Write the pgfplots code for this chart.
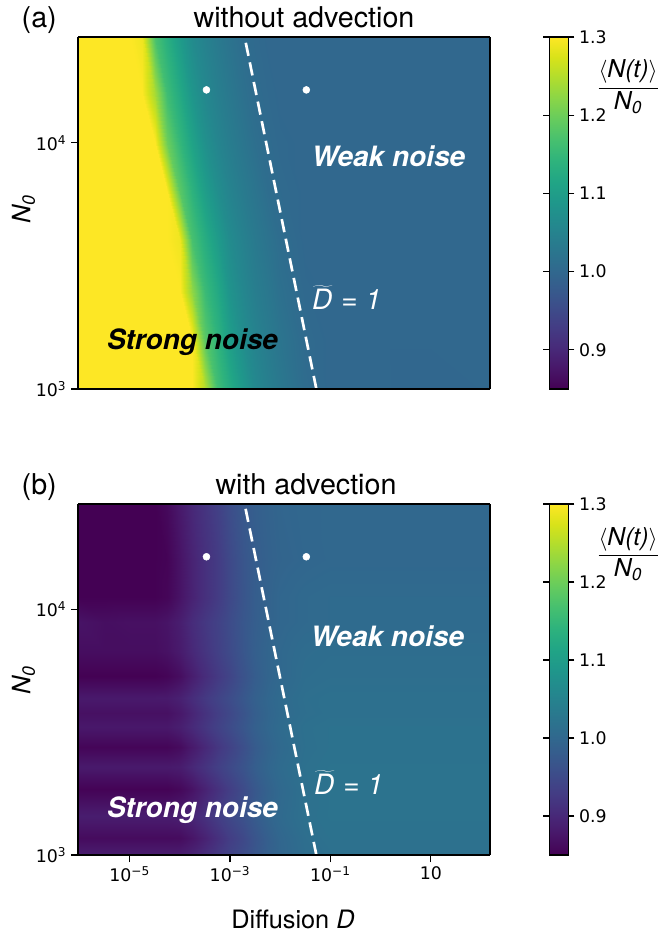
\documentclass[border=0pt]{standalone}
\usepackage{fontspec}
\setmainfont{TeX Gyre Heros}
\newfontfamily\dejavu{DejaVu Sans}
\usepackage{pgfplots}
\pgfplotsset{compat=1.18}

\newcommand{\tickfont}{\dejavu\fontsize{13}{15}\selectfont}
\newcommand{\bigfont}{\fontsize{19}{23}\selectfont}
\newcommand{\titlefont}{\fontsize{21.5}{25}\selectfont}
\newcommand{\annfont}{\fontsize{21}{25}\selectfont}

\pgfplotsset{
  panel/.style={
    view={0}{90},
    scale only axis,
    width=309pt,
    xmin=-6.03, xmax=2.18, ymin=3, ymax=4.43,
    axis on top,
    colormap name=viridis,
    point meta min=0.85, point meta max=1.3,
    tick align=outside,
    major tick length=5.25pt,
    every tick/.style={black, line width=0.9pt},
    axis line style={line width=0.9pt},
    xtick pos=left, ytick pos=left,
    ztick=\empty,
    ytick={3,4},
    yticklabels={10\textsuperscript{3},10\textsuperscript{4}},
    tick label style={font=\tickfont},
    colorbar,
    colorbar style={
      at={(parent axis.north east)}, anchor=north west, xshift=36pt,
      width=14.25pt,
      ytick={0.9,1.0,1.1,1.2,1.3},
      yticklabels={0.9,1.0,1.1,1.2,1.3},
      yticklabel style={font=\tickfont},
      tick align=outside,
      major tick length=4.5pt,
      every tick/.style={black, line width=0.9pt},
      axis line style={line width=0.9pt},
    },
  },
  dline/.style={white, line width=2pt, dash pattern=on 10pt off 5pt},
  dots/.style={only marks, mark=*, mark options={fill=white, draw=white}, mark size=2.6pt},
}

\begin{document}
\begin{tikzpicture}
\path[use as bounding box] (0,0) rectangle (497.25pt,700.5pt);

% ---------------- panel (a): without advection
\begin{axis}[panel, at={(58.5pt,408.75pt)}, anchor=south west, height=264pt, xtick=\empty]
\addplot3[surf, shader=interp, mesh/cols=20] coordinates {
(-6.03,3,1.33) (-5.5,3,1.33) (-5,3,1.33) (-4.75,3,1.33) (-4.5,3,1.33) (-4.25,3,1.33) (-4,3,1.33) (-3.75,3,1.33) (-3.5,3,1.25) (-3.25,3,1.16) (-3,3,1.125) (-2.75,3,1.09) (-2.5,3,1.06) (-2.25,3,1.043) (-2,3,1.03) (-1.5,3,1.008) (-1,3,1.0) (0,3,1.0) (1,3,0.998) (2.18,3,1.0)
(-6.03,3.2,1.33) (-5.5,3.2,1.33) (-5,3.2,1.33) (-4.75,3.2,1.33) (-4.5,3.2,1.33) (-4.25,3.2,1.33) (-4,3.2,1.33) (-3.75,3.2,1.31) (-3.5,3.2,1.185) (-3.25,3.2,1.14) (-3,3.2,1.10) (-2.75,3.2,1.07) (-2.5,3.2,1.05) (-2.25,3.2,1.035) (-2,3.2,1.023) (-1.5,3.2,1.005) (-1,3.2,1.0) (0,3.2,1.0) (1,3.2,1.0) (2.18,3.2,1.0)
(-6.03,3.4,1.33) (-5.5,3.4,1.33) (-5,3.4,1.33) (-4.75,3.4,1.33) (-4.5,3.4,1.33) (-4.25,3.4,1.33) (-4,3.4,1.33) (-3.75,3.4,1.225) (-3.5,3.4,1.155) (-3.25,3.4,1.12) (-3,3.4,1.08) (-2.75,3.4,1.057) (-2.5,3.4,1.04) (-2.25,3.4,1.028) (-2,3.4,1.015) (-1.5,3.4,1.002) (-1,3.4,1.0) (0,3.4,1.0) (1,3.4,1.0) (2.18,3.4,1.0)
(-6.03,3.6,1.33) (-5.5,3.6,1.33) (-5,3.6,1.33) (-4.75,3.6,1.33) (-4.5,3.6,1.33) (-4.25,3.6,1.33) (-4,3.6,1.29) (-3.75,3.6,1.17) (-3.5,3.6,1.13) (-3.25,3.6,1.095) (-3,3.6,1.065) (-2.75,3.6,1.047) (-2.5,3.6,1.032) (-2.25,3.6,1.02) (-2,3.6,1.009) (-1.5,3.6,1.0) (-1,3.6,1.0) (0,3.6,1.0) (1,3.6,1.0) (2.18,3.6,1.0)
(-6.03,3.8,1.33) (-5.5,3.8,1.33) (-5,3.8,1.33) (-4.75,3.8,1.33) (-4.5,3.8,1.33) (-4.25,3.8,1.31) (-4,3.8,1.185) (-3.75,3.8,1.14) (-3.5,3.8,1.10) (-3.25,3.8,1.07) (-3,3.8,1.05) (-2.75,3.8,1.035) (-2.5,3.8,1.023) (-2.25,3.8,1.01) (-2,3.8,1.005) (-1.5,3.8,1.0) (-1,3.8,1.0) (0,3.8,1.0) (1,3.8,1.0) (2.18,3.8,1.0)
(-6.03,4,1.33) (-5.5,4,1.33) (-5,4,1.33) (-4.75,4,1.33) (-4.5,4,1.33) (-4.25,4,1.20) (-4,4,1.148) (-3.75,4,1.11) (-3.5,4,1.075) (-3.25,4,1.053) (-3,4,1.038) (-2.75,4,1.025) (-2.5,4,1.013) (-2.25,4,1.006) (-2,4,1.002) (-1.5,4,1.0) (-1,4,1.0) (0,4,1.0) (1,4,1.0) (2.18,4,1.0)
(-6.03,4.2,1.33) (-5.5,4.2,1.33) (-5,4.2,1.33) (-4.75,4.2,1.33) (-4.5,4.2,1.24) (-4.25,4.2,1.16) (-4,4.2,1.122) (-3.75,4.2,1.085) (-3.5,4.2,1.059) (-3.25,4.2,1.042) (-3,4.2,1.029) (-2.75,4.2,1.016) (-2.5,4.2,1.007) (-2.25,4.2,1.003) (-2,4.2,1.0) (-1.5,4.2,1.0) (-1,4.2,1.0) (0,4.2,1.0) (1,4.2,1.0) (2.18,4.2,1.0)
(-6.03,4.43,1.33) (-5.5,4.43,1.33) (-5,4.43,1.33) (-4.75,4.43,1.29) (-4.5,4.43,1.17) (-4.25,4.43,1.132) (-4,4.43,1.095) (-3.75,4.43,1.065) (-3.5,4.43,1.047) (-3.25,4.43,1.032) (-3,4.43,1.02) (-2.75,4.43,1.009) (-2.5,4.43,1.004) (-2.25,4.43,1.0) (-2,4.43,1.0) (-1.5,4.43,1.0) (-1,4.43,1.0) (0,4.43,1.0) (1,4.43,1.0) (2.18,4.43,1.0)
};
\addplot3[dline] coordinates {(-1.28,3,1.4) (-2.71,4.43,1.4)};
\addplot3[dots] coordinates {(-3.47,4.215,1.4) (-1.48,4.215,1.4)};
\end{axis}

% ---------------- panel (b): with advection
\begin{axis}[panel, at={(58.5pt,59.25pt)}, anchor=south west, height=263.25pt,
  xtick={-5,-3,-1,1},
  xticklabels={10\textsuperscript{−5},10\textsuperscript{−3},10\textsuperscript{−1},10}]
\addplot3[surf, shader=interp, mesh/cols=20] coordinates {
(-6.03,3,0.885) (-5.5,3,0.885) (-5,3,0.885) (-4.75,3,0.885) (-4.5,3,0.885) (-4.25,3,0.885) (-4,3,0.885) (-3.75,3,0.894) (-3.5,3,0.908) (-3.25,3,0.925) (-3,3,0.940) (-2.75,3,0.954) (-2.5,3,0.970) (-2.25,3,0.986) (-2,3,0.997) (-1.5,3,1.01) (-1,3,1.015) (0,3,1.015) (1,3,1.015) (2.18,3,1.015)
(-6.03,3.07,0.862) (-5.5,3.07,0.862) (-5,3.07,0.862) (-4.75,3.07,0.862) (-4.5,3.07,0.862) (-4.25,3.07,0.862) (-4,3.07,0.863) (-3.75,3.07,0.874) (-3.5,3.07,0.892) (-3.25,3.07,0.912) (-3,3.07,0.931) (-2.75,3.07,0.947) (-2.5,3.07,0.967) (-2.25,3.07,0.985) (-2,3.07,0.998) (-1.5,3.07,1.012) (-1,3.07,1.018) (0,3.07,1.018) (1,3.07,1.018) (2.18,3.07,1.018)
(-6.03,3.16,0.885) (-5.5,3.16,0.885) (-5,3.16,0.885) (-4.75,3.16,0.885) (-4.5,3.16,0.885) (-4.25,3.16,0.885) (-4,3.16,0.888) (-3.75,3.16,0.897) (-3.5,3.16,0.913) (-3.25,3.16,0.931) (-3,3.16,0.947) (-2.75,3.16,0.961) (-2.5,3.16,0.978) (-2.25,3.16,0.994) (-2,3.16,1.004) (-1.5,3.16,1.016) (-1,3.16,1.02) (0,3.16,1.02) (1,3.16,1.02) (2.18,3.16,1.02)
(-6.03,3.27,0.852) (-5.5,3.27,0.852) (-5,3.27,0.852) (-4.75,3.27,0.852) (-4.5,3.27,0.852) (-4.25,3.27,0.852) (-4,3.27,0.858) (-3.75,3.27,0.871) (-3.5,3.27,0.892) (-3.25,3.27,0.913) (-3,3.27,0.932) (-2.75,3.27,0.951) (-2.5,3.27,0.972) (-2.25,3.27,0.990) (-2,3.27,1.002) (-1.5,3.27,1.015) (-1,3.27,1.02) (0,3.27,1.02) (1,3.27,1.02) (2.18,3.27,1.02)
(-6.03,3.36,0.88) (-5.5,3.36,0.88) (-5,3.36,0.88) (-4.75,3.36,0.88) (-4.5,3.36,0.88) (-4.25,3.36,0.88) (-4,3.36,0.884) (-3.75,3.36,0.899) (-3.5,3.36,0.916) (-3.25,3.36,0.934) (-3,3.36,0.949) (-2.75,3.36,0.965) (-2.5,3.36,0.983) (-2.25,3.36,0.997) (-2,3.36,1.006) (-1.5,3.36,1.016) (-1,3.36,1.02) (0,3.36,1.02) (1,3.36,1.02) (2.18,3.36,1.02)
(-6.03,3.44,0.855) (-5.5,3.44,0.855) (-5,3.44,0.855) (-4.75,3.44,0.855) (-4.5,3.44,0.855) (-4.25,3.44,0.855) (-4,3.44,0.862) (-3.75,3.44,0.880) (-3.5,3.44,0.900) (-3.25,3.44,0.921) (-3,3.44,0.938) (-2.75,3.44,0.957) (-2.5,3.44,0.978) (-2.25,3.44,0.993) (-2,3.44,1.003) (-1.5,3.44,1.014) (-1,3.44,1.018) (0,3.44,1.018) (1,3.44,1.018) (2.18,3.44,1.018)
(-6.03,3.52,0.878) (-5.5,3.52,0.878) (-5,3.52,0.878) (-4.75,3.52,0.878) (-4.5,3.52,0.878) (-4.25,3.52,0.878) (-4,3.52,0.887) (-3.75,3.52,0.902) (-3.5,3.52,0.920) (-3.25,3.52,0.937) (-3,3.52,0.952) (-2.75,3.52,0.969) (-2.5,3.52,0.986) (-2.25,3.52,0.998) (-2,3.52,1.006) (-1.5,3.52,1.015) (-1,3.52,1.018) (0,3.52,1.018) (1,3.52,1.018) (2.18,3.52,1.018)
(-6.03,3.58,0.868) (-5.5,3.58,0.868) (-5,3.58,0.868) (-4.75,3.58,0.868) (-4.5,3.58,0.868) (-4.25,3.58,0.868) (-4,3.58,0.878) (-3.75,3.58,0.895) (-3.5,3.58,0.914) (-3.25,3.58,0.932) (-3,3.58,0.947) (-2.75,3.58,0.965) (-2.5,3.58,0.983) (-2.25,3.58,0.996) (-2,3.58,1.004) (-1.5,3.58,1.012) (-1,3.58,1.015) (0,3.58,1.015) (1,3.58,1.015) (2.18,3.58,1.015)
(-6.03,3.64,0.88) (-5.5,3.64,0.88) (-5,3.64,0.88) (-4.75,3.64,0.88) (-4.5,3.64,0.88) (-4.25,3.64,0.881) (-4,3.64,0.890) (-3.75,3.64,0.906) (-3.5,3.64,0.924) (-3.25,3.64,0.940) (-3,3.64,0.954) (-2.75,3.64,0.971) (-2.5,3.64,0.987) (-2.25,3.64,0.998) (-2,3.64,1.005) (-1.5,3.64,1.013) (-1,3.64,1.015) (0,3.64,1.015) (1,3.64,1.015) (2.18,3.64,1.015)
(-6.03,3.73,0.85) (-5.5,3.73,0.85) (-5,3.73,0.85) (-4.75,3.73,0.85) (-4.5,3.73,0.85) (-4.25,3.73,0.854) (-4,3.73,0.865) (-3.75,3.73,0.885) (-3.5,3.73,0.906) (-3.25,3.73,0.925) (-3,3.73,0.942) (-2.75,3.73,0.963) (-2.5,3.73,0.981) (-2.25,3.73,0.994) (-2,3.73,1.001) (-1.5,3.73,1.01) (-1,3.73,1.012) (0,3.73,1.012) (1,3.73,1.012) (2.18,3.73,1.012)
(-6.03,3.83,0.865) (-5.5,3.83,0.865) (-5,3.83,0.865) (-4.75,3.83,0.865) (-4.5,3.83,0.865) (-4.25,3.83,0.870) (-4,3.83,0.882) (-3.75,3.83,0.900) (-3.5,3.83,0.918) (-3.25,3.83,0.935) (-3,3.83,0.951) (-2.75,3.83,0.969) (-2.5,3.83,0.985) (-2.25,3.83,0.995) (-2,3.83,1.001) (-1.5,3.83,1.008) (-1,3.83,1.01) (0,3.83,1.01) (1,3.83,1.01) (2.18,3.83,1.01)
(-6.03,3.95,0.872) (-5.5,3.95,0.866) (-5,3.95,0.868) (-4.75,3.95,0.868) (-4.5,3.95,0.868) (-4.25,3.95,0.873) (-4,3.95,0.886) (-3.75,3.95,0.905) (-3.5,3.95,0.922) (-3.25,3.95,0.937) (-3,3.95,0.953) (-2.75,3.95,0.970) (-2.5,3.95,0.983) (-2.25,3.95,0.992) (-2,3.95,0.998) (-1.5,3.95,1.003) (-1,3.95,1.005) (0,3.95,1.005) (1,3.95,1.005) (2.18,3.95,1.005)
(-6.03,4.05,0.845) (-5.5,4.05,0.845) (-5,4.05,0.845) (-4.75,4.05,0.845) (-4.5,4.05,0.845) (-4.25,4.05,0.855) (-4,4.05,0.872) (-3.75,4.05,0.892) (-3.5,4.05,0.911) (-3.25,4.05,0.928) (-3,4.05,0.948) (-2.75,4.05,0.967) (-2.5,4.05,0.982) (-2.25,4.05,0.991) (-2,4.05,0.998) (-1.5,4.05,1.003) (-1,4.05,1.005) (0,4.05,1.005) (1,4.05,1.005) (2.18,4.05,1.005)
(-6.03,4.2,0.84) (-5.5,4.2,0.84) (-5,4.2,0.84) (-4.75,4.2,0.84) (-4.5,4.2,0.841) (-4.25,4.2,0.853) (-4,4.2,0.872) (-3.75,4.2,0.893) (-3.5,4.2,0.912) (-3.25,4.2,0.928) (-3,4.2,0.949) (-2.75,4.2,0.968) (-2.5,4.2,0.981) (-2.25,4.2,0.989) (-2,4.2,0.994) (-1.5,4.2,0.998) (-1,4.2,1.0) (0,4.2,1.0) (1,4.2,1.0) (2.18,4.2,1.0)
(-6.03,4.43,0.84) (-5.5,4.43,0.84) (-5,4.43,0.84) (-4.75,4.43,0.84) (-4.5,4.43,0.846) (-4.25,4.43,0.86) (-4,4.43,0.88) (-3.75,4.43,0.90) (-3.5,4.43,0.918) (-3.25,4.43,0.936) (-3,4.43,0.956) (-2.75,4.43,0.973) (-2.5,4.43,0.984) (-2.25,4.43,0.991) (-2,4.43,0.996) (-1.5,4.43,0.999) (-1,4.43,1.0) (0,4.43,1.0) (1,4.43,1.0) (2.18,4.43,1.0)
};
\addplot3[dline] coordinates {(-1.28,3,1.4) (-2.71,4.43,1.4)};
\addplot3[dots] coordinates {(-3.47,4.215,1.4) (-1.48,4.215,1.4)};
\end{axis}

% ---------------- texts
\node[anchor=base west, font=\titlefont] at (12.75pt,679.5pt) {(a)};
\node[anchor=base, font=\titlefont] at (228pt,679.5pt) {without advection};
\node[anchor=base west, font=\titlefont] at (12.75pt,329.25pt) {(b)};
\node[anchor=base, font=\titlefont] at (229.5pt,329.25pt) {with advection};
\node[anchor=base, font=\bigfont] at (219.75pt,3.75pt) {Diffusion \textit{D}};

\node[rotate=90, font=\bigfont\itshape] at (17.6pt,543.4pt) {N\textsubscript{0}};
\node[rotate=90, font=\bigfont\itshape] at (17.6pt,190.5pt) {N\textsubscript{0}};

\node[font=\fontsize{18.5}{22}\selectfont] at (471pt,635.25pt)
  {$\displaystyle\frac{\langle\mbox{\itshape N(t)}\rangle}{\mbox{\itshape N\textsubscript{0}}}$};
\node[font=\fontsize{18.5}{22}\selectfont] at (471pt,285pt)
  {$\displaystyle\frac{\langle\mbox{\itshape N(t)}\rangle}{\mbox{\itshape N\textsubscript{0}}}$};

\node[anchor=base, font=\annfont\bfseries\itshape, white] at (291.4pt,575.25pt) {Weak noise};
\node[anchor=base west, font=\annfont\itshape, white] at (230.5pt,468pt) {$\widetilde{\mbox{\itshape D\kern1pt}}$ = 1};
\node[anchor=base, font=\annfont\bfseries\itshape, black] at (144.4pt,438pt) {Strong noise};

\node[anchor=base, font=\annfont\bfseries\itshape, white] at (290.6pt,215.25pt) {Weak noise};
\node[anchor=base west, font=\annfont\itshape, white] at (232pt,104.25pt) {$\widetilde{\mbox{\itshape D\kern1pt}}$ = 1};
\node[anchor=base, font=\annfont\bfseries\itshape, white] at (144.4pt,87pt) {Strong noise};
\end{tikzpicture}
\end{document}
